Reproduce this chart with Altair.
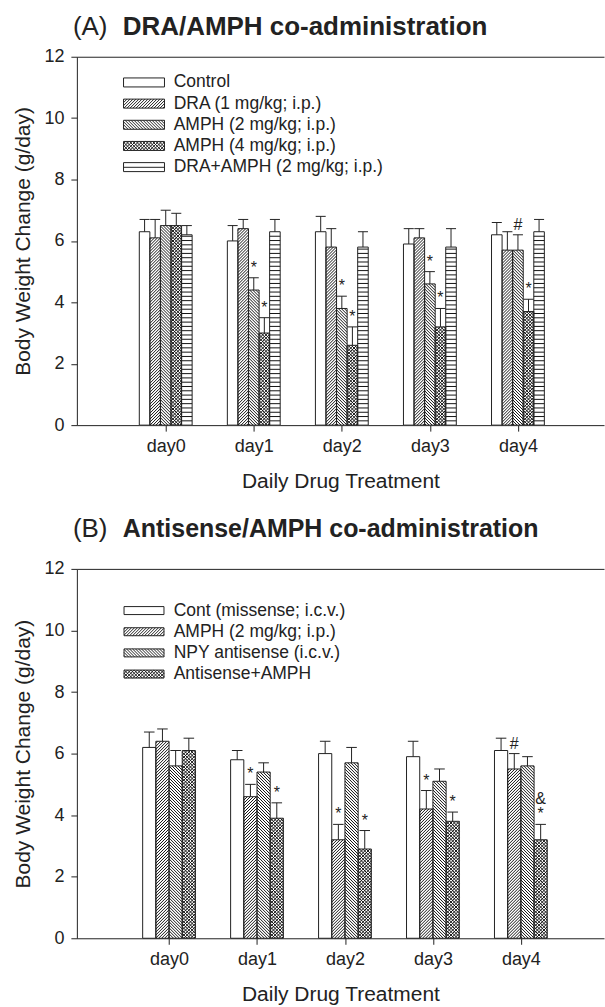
import altair as alt
import pandas as pd

alt.data_transformers.disable_max_rows()

FONT = "Liberation Sans"
INK = "#222222"

# ---------------- data ----------------
DAY_LABELS = ["day0", "day1", "day2", "day3", "day4"]

# Panel A
A_GROUPS = ["Control", "DRA (1 mg/kg; i.p.)", "AMPH (2 mg/kg; i.p.)",
            "AMPH (4 mg/kg; i.p.)", "DRA+AMPH (2 mg/kg; i.p.)"]
A_CONTROL = [6.3, 6.0, 6.3, 5.9, 6.2]
A_DRA = [6.1, 6.4, 5.8, 6.1, 5.7]
A_AMPH2 = [6.5, 4.4, 3.8, 4.6, 5.7]
A_AMPH4 = [6.5, 3.0, 2.6, 3.2, 3.7]
A_DRA_AMPH = [6.2, 6.3, 5.8, 5.8, 6.3]
A_CONTROL_SE = [0.4, 0.5, 0.5, 0.5, 0.4]
A_DRA_SE = [0.6, 0.3, 0.6, 0.3, 0.6]
A_AMPH2_SE = [0.5, 0.4, 0.4, 0.4, 0.5]
A_AMPH4_SE = [0.4, 0.5, 0.6, 0.6, 0.4]
A_DRA_AMPH_SE = [0.3, 0.4, 0.5, 0.6, 0.4]
A_SIG = [["", "", "", "", ""], ["", "", "", "", ""], ["", "*", "*", "*", "#"],
         ["", "*", "*", "*", "*"], ["", "", "", "", ""]]
A_SIG2 = [["", "", "", "", ""]] * 5

# Panel B
B_GROUPS = ["Cont (missense; i.c.v.)", "AMPH (2 mg/kg; i.p.)",
            "NPY antisense (i.c.v.)", "Antisense+AMPH"]
B_CONTROL = [6.2, 5.8, 6.0, 5.9, 6.1]
B_AMPH = [6.4, 4.6, 3.2, 4.2, 5.5]
B_NPY_AS = [5.6, 5.4, 5.7, 5.1, 5.6]
B_AS_AMPH = [6.1, 3.9, 2.9, 3.8, 3.2]
B_CONTROL_SE = [0.5, 0.3, 0.4, 0.5, 0.4]
B_AMPH_SE = [0.4, 0.4, 0.5, 0.6, 0.5]
B_NPY_AS_SE = [0.5, 0.3, 0.5, 0.4, 0.3]
B_AS_AMPH_SE = [0.4, 0.5, 0.6, 0.3, 0.5]
B_SIG = [["", "", "", "", ""], ["", "*", "*", "*", "#"],
         ["", "", "", "", ""], ["", "*", "*", "*", "*"]]
B_SIG2 = [["", "", "", "", ""], ["", "", "", "", ""],
          ["", "", "", "", ""], ["", "", "", "", "&"]]

# fill pattern of each series
A_PATTERNS = ["none", "fwd", "back", "cross", "horiz"]
B_PATTERNS = ["none", "fwd", "back", "cross"]

# ---------------- helpers ----------------
SP_DIAG = 3.0
SP_CROSS = 3.3
SP_HORIZ = 4.3


def hatch_segments(w, h, kind):
    """Hatch lines (pixel units, y up) clipped to a w x h rectangle."""
    segs = []

    def diag(sp, mirror):
        c = -w + sp / 2.0
        while c < h:
            xs = max(0.0, -c)
            xe = min(w, h - c)
            if xe - xs > 0.25:
                ys, ye = xs + c, xe + c
                if mirror:
                    segs.append((w - xs, ys, w - xe, ye))
                else:
                    segs.append((xs, ys, xe, ye))
            c += sp

    if kind == "fwd":
        diag(SP_DIAG, False)
    elif kind == "back":
        diag(SP_DIAG, True)
    elif kind == "cross":
        diag(SP_CROSS, False)
        diag(SP_CROSS, True)
    elif kind == "horiz":
        y = SP_HORIZ
        while y < h - 0.6:
            segs.append((0.0, y, w, y))
            y += SP_HORIZ
    return segs


def swatch_path(kind, w, h):
    # unit = h/2 pixels, so the symbol size is h*h
    s = h / 2.0
    hw = (w / 2.0) / s
    parts = [f"M{-hw:.4f},-1H{hw:.4f}V1H{-hw:.4f}Z"]
    for (x1, y1, x2, y2) in hatch_segments(w, h, kind):
        ux1, uy1 = (x1 - w / 2) / s, (h / 2 - y1) / s
        ux2, uy2 = (x2 - w / 2) / s, (h / 2 - y2) / s
        parts.append(f"M{ux1:.4f},{uy1:.4f}L{ux2:.4f},{uy2:.4f}")
    return "".join(parts)


W = 528


def axis_style():
    return dict(grid=False, tickSize=6, domainColor=INK, tickColor=INK,
                labelColor=INK, titleColor=INK, labelFont=FONT, titleFont=FONT,
                labelFontSize=18, titleFontSize=21, titleFontWeight="normal",
                domainWidth=1, tickWidth=1)


def panel(groups, means, ses, sig, sig2, patterns, xmin, px_per_day, H,
          letter, title, title_size, title_y, legend_y, swatch_w, swatch_h, cap_frac):
    n = len(groups)
    xmax = xmin + W / px_per_day
    PX = px_per_day
    PY = H / 12.0
    bw = 0.6 / n

    rows, segs = [], []
    for gi, g in enumerate(groups):
        for di in range(5):
            xc = di + (gi - (n - 1) / 2.0) * bw
            x0, x1 = xc - bw / 2, xc + bw / 2
            v, e = means[gi][di], ses[gi][di]
            rows.append(dict(group=g, day=di, xc=xc, x0=x0, x1=x1, top=v, cap=v + e,
                             xl=xc - bw * cap_frac / 2, xr=xc + bw * cap_frac / 2,
                             sig=sig[gi][di], sig2=sig2[gi][di]))
            for (a, b, c, d) in hatch_segments(bw * PX, v * PY, patterns[gi]):
                segs.append(dict(sx=x0 + a / PX, sy=b / PY, ex=x0 + c / PX, ey=d / PY))
    bars = pd.DataFrame(rows)
    hat = pd.DataFrame(segs)
    ann1 = bars[bars["sig"] != ""]
    ann2 = bars[bars["sig2"] != ""]

    xscale = alt.Scale(domain=[xmin, xmax], nice=False, zero=False)
    yscale = alt.Scale(domain=[0, 12], nice=False, zero=True)
    label_expr = "[" + ",".join(f"'{d}'" for d in DAY_LABELS) + "][datum.value]"

    x_bottom = alt.X("x0:Q", scale=xscale, axis=alt.Axis(
        values=[0, 1, 2, 3, 4], labelExpr=label_expr, title="Daily Drug Treatment",
        labelPadding=6, titlePadding=15, **axis_style()))
    y_left = alt.Y("top:Q", scale=yscale, axis=alt.Axis(
        values=[0, 2, 4, 6, 8, 10, 12], title="Body Weight Change (g/day)",
        labelPadding=7, titlePadding=10, **axis_style()))

    fill = alt.Chart(bars).mark_rect(color="white").encode(
        x=x_bottom, x2="x1:Q", y=y_left, y2=alt.datum(0))

    hatch = alt.Chart(hat).mark_rule(color="#141414", strokeWidth=1.0).encode(
        x=alt.X("sx:Q", scale=xscale, axis=None), x2="ex:Q",
        y=alt.Y("sy:Q", scale=yscale, axis=None), y2="ey:Q")

    outline = alt.Chart(bars).mark_rect(fillOpacity=0, stroke=INK, strokeWidth=1).encode(
        x=alt.X("x0:Q", scale=xscale, axis=alt.Axis(
            orient="top", labels=False, ticks=False, title=None, grid=False,
            domain=True, domainColor=INK, domainWidth=1)),
        x2="x1:Q",
        y=alt.Y("top:Q", scale=yscale, axis=None), y2=alt.datum(0))

    err = alt.Chart(bars).mark_rule(color=INK, strokeWidth=1).encode(
        x=alt.X("xc:Q", scale=xscale, axis=None),
        y=alt.Y("top:Q", scale=yscale, axis=None), y2="cap:Q")

    caps = alt.Chart(bars).mark_rule(color=INK, strokeWidth=1).encode(
        x=alt.X("xl:Q", scale=xscale, axis=None), x2="xr:Q",
        y=alt.Y("cap:Q", scale=yscale, axis=None))

    t1 = alt.Chart(ann1).mark_text(font=FONT, fontSize=16, color=INK, dy=-5,
                                   baseline="alphabetic", align="center").encode(
        x=alt.X("xc:Q", scale=xscale, axis=None),
        y=alt.Y("cap:Q", scale=yscale, axis=None), text="sig:N")

    layers = [fill, hatch, outline, err, caps, t1]
    if len(ann2):
        t2 = alt.Chart(ann2).mark_text(font=FONT, fontSize=16, color=INK, dy=-20,
                                       baseline="alphabetic", align="center").encode(
            x=alt.X("xc:Q", scale=xscale, axis=None),
            y=alt.Y("cap:Q", scale=yscale, axis=None), text="sig2:N")
        layers.append(t2)

    paths = [swatch_path(p, swatch_w, swatch_h) for p in patterns]
    leg = alt.Chart(bars).mark_point(opacity=0, filled=False, color=INK).encode(
        x=alt.X("xc:Q", scale=xscale, axis=None),
        y=alt.Y("top:Q", scale=yscale, axis=None),
        shape=alt.Shape("group:N", scale=alt.Scale(domain=groups, range=paths),
                        legend=alt.Legend(
                            title=None, orient="none", legendX=46, legendY=legend_y,
                            direction="vertical", symbolSize=swatch_h ** 2,
                            symbolOffset=(swatch_w - swatch_h) / 2.0 - 3.5,
                            symbolOpacity=1, symbolStrokeColor=INK,
                            symbolFillColor="white", symbolStrokeWidth=1,
                            labelFont=FONT, labelFontSize=17.5, labelColor=INK,
                            labelOffset=swatch_w - swatch_h - 11, rowPadding=2.2,
                            padding=0, labelLimit=400)))
    layers.append(leg)

    one = pd.DataFrame({"k": [0]})
    tl = alt.Chart(one).mark_text(text=letter, font=FONT, fontSize=26, color=INK,
                                  align="left", baseline="alphabetic").encode(
        x=alt.value(-4), y=alt.value(title_y))
    tb = alt.Chart(one).mark_text(text=title, font=FONT, fontSize=title_size,
                                  fontWeight="bold", color=INK, align="left",
                                  baseline="alphabetic").encode(
        x=alt.value(46), y=alt.value(title_y))
    layers += [tl, tb]

    return alt.layer(*layers).resolve_axis(x="independent", y="independent").properties(
        width=W, height=H)


A_MEANS = [A_CONTROL, A_DRA, A_AMPH2, A_AMPH4, A_DRA_AMPH]
A_SES = [A_CONTROL_SE, A_DRA_SE, A_AMPH2_SE, A_AMPH4_SE, A_DRA_AMPH_SE]
B_MEANS = [B_CONTROL, B_AMPH, B_NPY_AS, B_AS_AMPH]
B_SES = [B_CONTROL_SE, B_AMPH_SE, B_NPY_AS_SE, B_AS_AMPH_SE]

pa = panel(A_GROUPS, A_MEANS, A_SES, A_SIG, A_SIG2, A_PATTERNS,
           xmin=-1.009, px_per_day=88.2, H=369, letter="(A)",
           title="DRA/AMPH co-administration", title_size=26, title_y=-22,
           legend_y=17, swatch_w=41, swatch_h=9, cap_frac=0.95)
pb = panel(B_GROUPS, B_MEANS, B_SES, B_SIG, B_SIG2, B_PATTERNS,
           xmin=-1.048, px_per_day=88.1, H=370, letter="(B)",
           title="Antisense/AMPH co-administration", title_size=25, title_y=-32,
           legend_y=33, swatch_w=40, swatch_h=8, cap_frac=0.8)

chart = alt.vconcat(pa, pb, spacing=23).resolve_scale(shape="independent").properties(
    padding={"left": 12, "top": 12, "right": 0, "bottom": 0},
    background="white",
).configure_view(stroke="transparent")

chart.save("out.html", embed_options={"renderer": "svg", "actions": False})
